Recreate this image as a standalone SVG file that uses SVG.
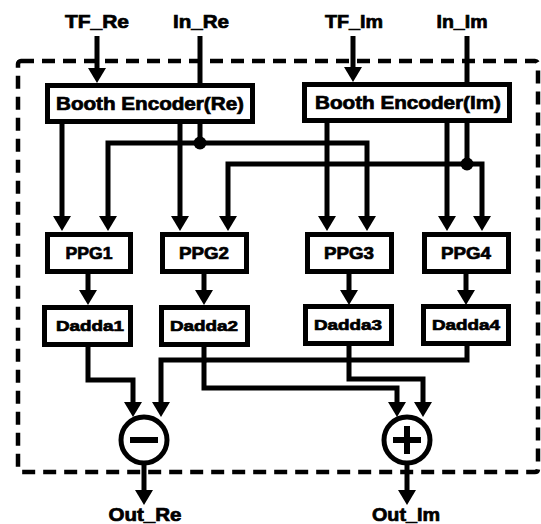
<svg xmlns="http://www.w3.org/2000/svg" width="541" height="524" viewBox="0 0 541 524">
<defs>
<marker id="arr" viewBox="0 0 15 18" refX="7" refY="9" markerWidth="15" markerHeight="18" markerUnits="userSpaceOnUse" orient="auto">
<path d="M0,0 L15,9 L0,18 z" fill="#000"/>
</marker>
</defs>
<style>
.box{fill:#fff;stroke:#000;stroke-width:5}
.t{font-family:"Liberation Sans",Arial,sans-serif;font-weight:bold;fill:#000;stroke:#000;stroke-width:0.7;text-anchor:middle}
.w{fill:none;stroke:#000;stroke-width:5;stroke-linejoin:miter}
.a{marker-end:url(#arr)}
.border{fill:none;stroke:#000;stroke-width:4.5;stroke-dasharray:13 8}
</style>
<rect width="541" height="524" fill="#fff"/>
<rect class="border" x="18" y="61" width="520" height="411" rx="3"/>

<g id="labels">
<text class="t" x="97" y="28" font-size="18" textLength="64" lengthAdjust="spacingAndGlyphs">TF_Re</text>
<text class="t" x="201" y="28" font-size="18" textLength="56" lengthAdjust="spacingAndGlyphs">In_Re</text>
<text class="t" x="354" y="28" font-size="18" textLength="58" lengthAdjust="spacingAndGlyphs">TF_Im</text>
<text class="t" x="462" y="28" font-size="18" textLength="51" lengthAdjust="spacingAndGlyphs">In_Im</text>
<text class="t" x="145" y="521" font-size="18" textLength="73" lengthAdjust="spacingAndGlyphs">Out_Re</text>
<text class="t" x="406" y="521" font-size="18" textLength="68" lengthAdjust="spacingAndGlyphs">Out_Im</text>
</g>

<g id="connectors">
<path class="w a" d="M97,36 V75"/>
<path class="w" d="M200,36 V84"/>
<path class="w a" d="M353,36 V74"/>
<path class="w" d="M467,36 V83"/>

<path class="w a" d="M62,122 V223"/>
<path class="w a" d="M180,122 V223"/>
<path class="w" d="M200,122 V143"/>
<path class="w a" d="M200,143 H108 V223"/>
<path class="w a" d="M200,143 H367 V223"/>
<path class="w a" d="M327,121 V223"/>
<path class="w a" d="M447,121 V223"/>
<path class="w" d="M467,121 V164"/>
<path class="w a" d="M467,164 H228 V223"/>
<path class="w a" d="M467,164 H482 V223"/>

<path class="w a" d="M88,272 V297"/>
<path class="w a" d="M204,272 V297"/>
<path class="w a" d="M349,272 V297"/>
<path class="w a" d="M466,272 V297"/>

<path class="w a" d="M88,345 V380 H133 V409"/>
<path class="w a" d="M204,345 V360 H161 V409"/>
<path class="w" d="M467,345 V360 H204"/>
<path class="w a" d="M204,360 V388 H397 V409"/>
<path class="w a" d="M349,345 V379 H423 V409"/>

<path class="w a" d="M144,464 V497"/>
<path class="w a" d="M407,464 V497"/>
<circle cx="200" cy="143" r="6.5" fill="#000"/>
<circle cx="467" cy="164" r="6.5" fill="#000"/>
</g>

<g id="booth_re">
<rect class="box" x="47.5" y="85.5" width="205" height="36"/>
<text class="t" x="150" y="110" font-size="18" textLength="188" lengthAdjust="spacingAndGlyphs">Booth Encoder(Re)</text>
</g>
<g id="booth_im">
<rect class="box" x="304.5" y="84.5" width="205" height="36"/>
<text class="t" x="408" y="109" font-size="18" textLength="186" lengthAdjust="spacingAndGlyphs">Booth Encoder(Im)</text>
</g>

<g id="ppg1"><rect class="box" x="47.5" y="234.5" width="83" height="37"/><text class="t" x="89" y="259" font-size="17" textLength="47" lengthAdjust="spacingAndGlyphs">PPG1</text></g>
<g id="ppg2"><rect class="box" x="162.5" y="234.5" width="84" height="37"/><text class="t" x="204" y="259" font-size="17" textLength="50" lengthAdjust="spacingAndGlyphs">PPG2</text></g>
<g id="ppg3"><rect class="box" x="307.5" y="234.5" width="84" height="37"/><text class="t" x="349" y="259" font-size="17" textLength="50" lengthAdjust="spacingAndGlyphs">PPG3</text></g>
<g id="ppg4"><rect class="box" x="424.5" y="234.5" width="84" height="37"/><text class="t" x="466" y="259" font-size="17" textLength="50" lengthAdjust="spacingAndGlyphs">PPG4</text></g>

<g id="dadda1"><rect class="box" x="44.5" y="307.5" width="86" height="37"/><text class="t" x="90" y="331" font-size="15" textLength="68" lengthAdjust="spacingAndGlyphs">Dadda1</text></g>
<g id="dadda2"><rect class="box" x="161.5" y="307.5" width="86" height="37"/><text class="t" x="204" y="331" font-size="15" textLength="68" lengthAdjust="spacingAndGlyphs">Dadda2</text></g>
<g id="dadda3"><rect class="box" x="305.5" y="306.5" width="86" height="37"/><text class="t" x="348" y="330" font-size="15" textLength="68" lengthAdjust="spacingAndGlyphs">Dadda3</text></g>
<g id="dadda4"><rect class="box" x="423.5" y="306.5" width="85" height="37"/><text class="t" x="466" y="330" font-size="15" textLength="68" lengthAdjust="spacingAndGlyphs">Dadda4</text></g>

<g id="sub">
<circle cx="144" cy="440" r="23" fill="#fff" stroke="#000" stroke-width="5"/>
<path d="M130,440 H158" stroke="#000" stroke-width="6"/>
</g>
<g id="add">
<circle cx="407" cy="440" r="23" fill="#fff" stroke="#000" stroke-width="5"/>
<path d="M393,440 H421 M407,426 V454" stroke="#000" stroke-width="6"/>
</g>
</svg>
